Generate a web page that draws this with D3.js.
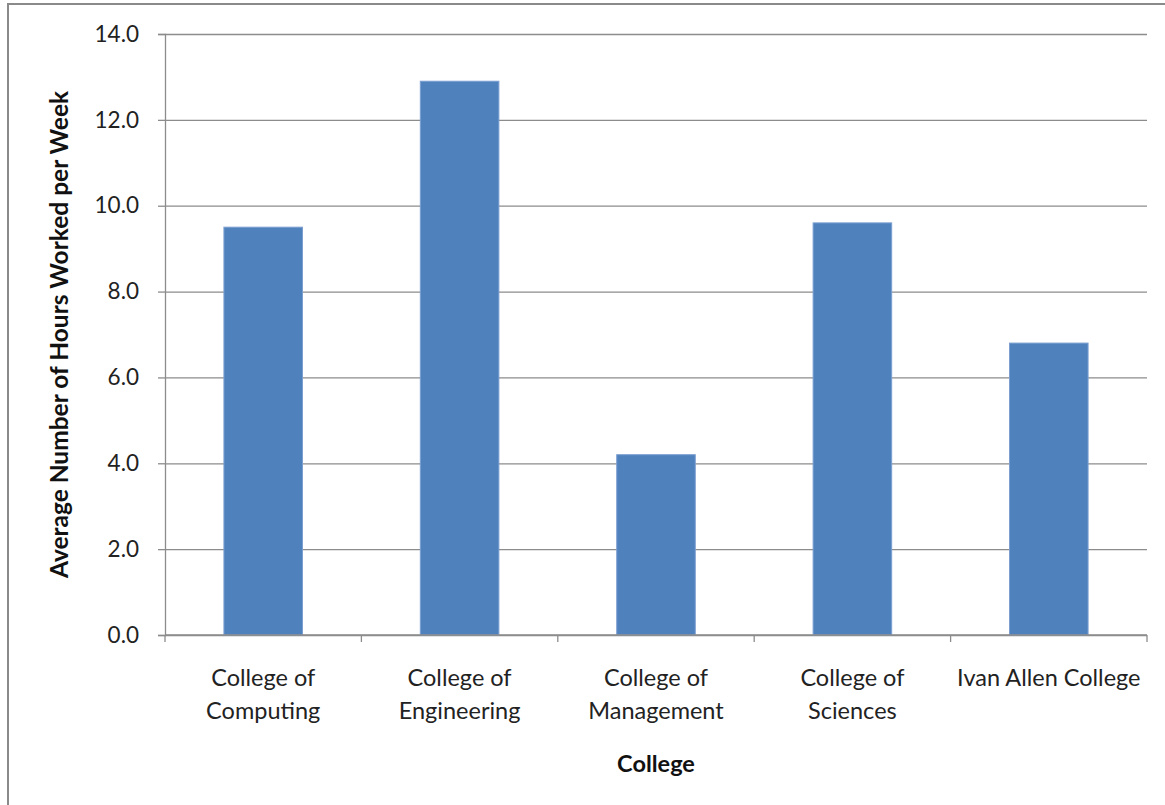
<!DOCTYPE html>
<html>
<head>
<meta charset="utf-8">
<script src="https://cdn.jsdelivr.net/npm/d3@7"></script>
<style>
  body { margin: 0; background: #fff; }
  svg { display: block; }
  svg text { font-family: Lato, "Open Sans", sans-serif; }
</style>
</head>
<body>
<div id="chart"></div>
<script>
const colleges = ["College of Computing", "College of Engineering", "College of Management", "College of Sciences", "Ivan Allen College"];
const avgHours = [9.5, 12.9, 4.2, 9.6, 6.8];
const yTicks = [0, 2, 4, 6, 8, 10, 12, 14];

const W = 1165, H = 805;
const margin = {top: 34, right: 18, bottom: 170, left: 165},
    width = W - margin.left - margin.right,
    height = H - margin.top - margin.bottom;
const wrapWidth = 190;

const root = d3.select("#chart").append("svg")
    .attr("width", W)
    .attr("height", H);

// outer chart border (runs off the right/bottom edge like the source)
root.append("rect")
    .attr("x", 8).attr("y", 4)
    .attr("width", W + 20).attr("height", H + 20)
    .attr("fill", "none")
    .attr("stroke", "#8a8a8a")
    .attr("stroke-width", 2);

const svg = root.append("g")
    .attr("transform", `translate(${margin.left},${margin.top})`);

const x = d3.scaleBand()
    .domain(colleges)
    .range([0, width])
    .paddingInner(0.6)
    .paddingOuter(0.3);

const y = d3.scaleLinear()
    .domain([0, 14])
    .range([height, 0]);

// gridlines
svg.append("g")
    .call(d3.axisLeft(y).tickValues(yTicks).tickSize(-width).tickFormat(""))
    .call(g => g.select(".domain").remove())
    .call(g => g.selectAll("line").attr("stroke", "#8c8c8c").attr("stroke-width", 1.3));

// bars
svg.selectAll(".bar")
    .data(avgHours)
    .join("rect")
      .attr("class", "bar")
      .attr("x", (d, i) => x(colleges[i]))
      .attr("y", d => y(d))
      .attr("width", x.bandwidth())
      .attr("height", d => height - y(d))
      .attr("fill", "#4f81bd")
      .attr("stroke", "#7b9fd0")
      .attr("stroke-width", 1);

// y axis
svg.append("g")
    .call(d3.axisLeft(y).tickValues(yTicks).tickSize(7).tickPadding(19).tickFormat(d3.format(".1f")))
    .call(g => g.select(".domain").attr("stroke", "#8c8c8c").attr("stroke-width", 1.3))
    .call(g => g.selectAll("line").attr("stroke", "#8c8c8c").attr("stroke-width", 1.3))
    .call(g => g.selectAll("text").attr("fill", "#222").style("font-size", "22.5px"));

// x axis: baseline and ticks at category boundaries
const xAxis = svg.append("g").attr("transform", `translate(0,${height})`);
xAxis.append("line")
    .attr("x1", 0).attr("x2", width)
    .attr("stroke", "#8c8c8c").attr("stroke-width", 1.3);
const bounds = d3.range(colleges.length + 1).map(i => i * x.step());
xAxis.selectAll(".xtick")
    .data(bounds)
    .join("line")
      .attr("x1", d => d).attr("x2", d => d)
      .attr("y1", 0).attr("y2", 7)
      .attr("stroke", "#8c8c8c").attr("stroke-width", 1.3);

// category labels, word-wrapped
const labels = xAxis.selectAll(".xlabel")
    .data(colleges)
    .join("text")
      .attr("class", "xlabel")
      .attr("x", d => x(d) + x.bandwidth() / 2)
      .attr("y", 51)
      .attr("text-anchor", "middle")
      .attr("fill", "#222")
      .style("font-size", "23.5px");

labels.each(function(d) {
    const t = d3.select(this);
    const words = d.split(" ");
    let line = [];
    let tspan = t.append("tspan").attr("x", t.attr("x")).attr("dy", 0);
    words.forEach(w => {
        line.push(w);
        tspan.text(line.join(" "));
        if (tspan.node().getComputedTextLength() > wrapWidth && line.length > 1) {
            line.pop();
            tspan.text(line.join(" "));
            line = [w];
            tspan = t.append("tspan").attr("x", t.attr("x")).attr("dy", 33).text(w);
        }
    });
});

// axis titles
svg.append("text")
    .attr("x", width / 2)
    .attr("y", height + 137)
    .attr("text-anchor", "middle")
    .attr("font-weight", "bold")
    .attr("fill", "#111")
    .style("font-size", "23.5px")
    .text("College");

svg.append("text")
    .attr("transform", `translate(${-97},${height / 2}) rotate(-90)`)
    .attr("text-anchor", "middle")
    .attr("font-weight", "bold")
    .attr("fill", "#111")
    .style("font-size", "24.5px")
    .text("Average Number of Hours Worked per Week");
</script>
</body>
</html>
